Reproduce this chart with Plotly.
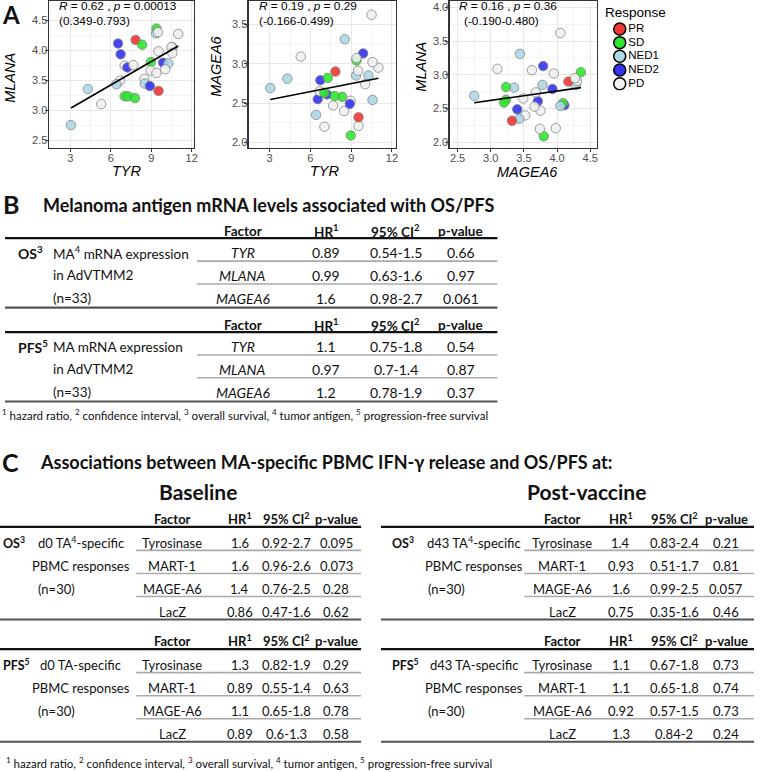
import numpy as np
import plotly.graph_objects as go

W, H = 763, 772

# ---------------- Panel A data (33 patients) ----------------
tyr = [9.39, 9.36, 9.50, 7.84, 6.54, 8.33, 11.0, 6.73, 10.57, 10.50, 10.57,
       9.54, 8.97, 9.88, 10.27, 7.03, 7.23, 7.67, 8.95, 9.39, 10.03, 8.48,
       6.69, 6.42, 8.53, 8.90, 9.54, 4.30, 7.03, 7.28, 7.79, 5.29, 3.05]
mlana = [4.36, 4.28, 4.30, 4.17, 4.11, 4.09, 4.27, 3.93, 4.05, 4.05, 3.95,
         3.98, 3.80, 3.79, 3.78, 3.74, 3.71, 3.75, 3.66, 3.62, 3.68, 3.52,
         3.49, 3.43, 3.44, 3.40, 3.32, 3.35, 3.23, 3.23, 3.20, 3.10, 2.75]
magea6 = [3.04, 2.85, 2.91, 2.90, 2.55, 2.58, 2.95, 2.79, 2.54, 3.62, 3.02,
          2.21, 2.09, 3.13, 2.85, 2.20, 2.61, 2.47, 2.53, 3.07, 2.74, 2.40,
          2.65, 2.35, 3.31, 2.49, 2.32, 2.81, 2.63, 2.82, 2.59, 3.09, 2.69]
response = ["SD", "NED1", "PD", "PR", "NED2", "SD", "PD", "NED2", "NED1", "PD", "PD",
            "PD", "SD", "NED2", "NED1", "PD", "NED2", "PD", "PD", "PD", "PD", "PD",
            "PD", "NED1", "NED1", "NED2", "PR", "NED1", "SD", "SD", "SD", "PD", "NED1"]

resp_levels = ["PR", "SD", "NED1", "NED2", "PD"]
resp_colors = ["#f23535", "#2ee82e", "#add8e6", "#3434f0", "#f0f0f0"]

corr_text = ["<i>R</i> = 0.62 , <i>p</i> = 0.00013", "<i>R</i> = 0.19 , <i>p</i> = 0.29",
             "<i>R</i> = 0.16 , <i>p</i> = 0.36"]
ci_text = ["(0.349-0.793)", "(-0.166-0.499)", "(-0.190-0.480)"]

# ---------------- Panel B data ----------------
b_factors = ["TYR", "MLANA", "MAGEA6"]
b_os_hr = ["0.89", "0.99", "1.6"]
b_os_ci = ["0.54-1.5", "0.63-1.6", "0.98-2.7"]
b_os_p = ["0.66", "0.97", "0.061"]
b_pfs_hr = ["1.1", "0.97", "1.2"]
b_pfs_ci = ["0.75-1.8", "0.7-1.4", "0.78-1.9"]
b_pfs_p = ["0.54", "0.87", "0.37"]

# ---------------- Panel C data ----------------
c_factors = ["Tyrosinase", "MART-1", "MAGE-A6", "LacZ"]
c_base_os_hr = ["1.6", "1.6", "1.4", "0.86"]
c_base_os_ci = ["0.92-2.7", "0.96-2.6", "0.76-2.5", "0.47-1.6"]
c_base_os_p = ["0.095", "0.073", "0.28", "0.62"]
c_base_pfs_hr = ["1.3", "0.89", "1.1", "0.89"]
c_base_pfs_ci = ["0.82-1.9", "0.55-1.4", "0.65-1.8", "0.6-1.3"]
c_base_pfs_p = ["0.29", "0.63", "0.78", "0.58"]
c_post_os_hr = ["1.4", "0.93", "1.6", "0.75"]
c_post_os_ci = ["0.83-2.4", "0.51-1.7", "0.99-2.5", "0.35-1.6"]
c_post_os_p = ["0.21", "0.81", "0.057", "0.46"]
c_post_pfs_hr = ["1.1", "1.1", "0.92", "1.3"]
c_post_pfs_ci = ["0.67-1.8", "0.65-1.8", "0.57-1.5", "0.84-2"]
c_post_pfs_p = ["0.73", "0.74", "0.73", "0.24"]

footnote = ("<sup>1</sup> hazard ratio, <sup>2</sup> confidence interval, <sup>3</sup> overall survival, "
            "<sup>4</sup> tumor antigen, <sup>5</sup> progression-free survival")

# ---------------------------------------------------------------
AF = "Liberation Sans"
TF = "Lato"


def X(p):
    return p / W


def Y(p):
    return 1 - p / H


fig = go.Figure()
ann = []
shapes = []


def txt(x, y, s, size, anchor="center", family=TF, color="#111111", angle=0):
    ann.append(dict(x=X(x), y=Y(y), xref="paper", yref="paper", text=s, showarrow=False,
                    xanchor=anchor, yanchor="middle", textangle=angle,
                    font=dict(family=family, size=size, color=color)))


def hline(x0, x1, y, color, width):
    shapes.append(dict(type="line", xref="paper", yref="paper", x0=X(x0), x1=X(x1),
                       y0=Y(y), y1=Y(y), line=dict(color=color, width=width)))


cmap = dict(zip(resp_levels, resp_colors))
pt_colors = [cmap[r] for r in response]

panels = [
    # x data, y data, x box px, x range, x dtick, y range, xtitle, ytitle
    (tyr, mlana, (49, 195), (1.40, 12.17), 3, (2.37, 4.82), "TYR", "MLANA"),
    (tyr, magea6, (250, 398), (1.46, 12.29), 3, (1.933, 3.795), "TYR", "MAGEA6"),
    (mlana, magea6, (452, 600), (2.38, 4.60), 0.5, (1.92, 4.093), "MAGEA6", "MLANA"),
]
ytitle_pos = [(10, 78), (217, 66), (423, 67)]
xtitle_pos = [(128, 171), (327, 171), (530, 172)]
corr_pos = [(57, 57), (258, 258), (459, 464)]

layout_axes = {}
for i, (xs, ys, (bx0, bx1), xr, xdt, yr, xt, yt) in enumerate(panels):
    k = "" if i == 0 else str(i + 1)
    fig.add_trace(go.Scatter(
        x=xs, y=ys, mode="markers", xaxis="x" + k, yaxis="y" + k, showlegend=False,
        marker=dict(size=9.5, color=pt_colors, opacity=0.9,
                    line=dict(color="#7a7a7a", width=0.8)),
        hoverinfo="skip"))
    slope, icpt = np.polyfit(np.array(xs), np.array(ys), 1)
    lx = np.array([min(xs), max(xs)])
    fig.add_trace(go.Scatter(x=lx, y=slope * lx + icpt, mode="lines", xaxis="x" + k,
                             yaxis="y" + k, showlegend=False,
                             line=dict(color="black", width=1.6), hoverinfo="skip"))
    common = dict(showline=True, mirror=True, linecolor="#333333", linewidth=1.2,
                  ticks="outside", ticklen=3, tickcolor="#333333", zeroline=False,
                  tickfont=dict(family=AF, size=11, color="#4d4d4d"),
                  showgrid=True, gridcolor="#e8e8e8", gridwidth=1)
    layout_axes["xaxis" + k] = dict(common, domain=[X(bx0), X(bx1)], range=list(xr),
                                    anchor="y" + k, dtick=xdt, tick0=0,
                                    tickformat=".1f" if xdt < 1 else "d",
                                    ticklabelstandoff=-3,
                                    minor=dict(dtick=xdt / 2, showgrid=True,
                                               gridcolor="#f4f4f4", ticks=""))
    layout_axes["yaxis" + k] = dict(common, domain=[Y(148), Y(1)], range=list(yr),
                                    anchor="x" + k, dtick=0.5, tick0=0, tickformat=".1f",
                                    ticklabelstandoff=-5,
                                    minor=dict(dtick=0.25, showgrid=True,
                                               gridcolor="#f4f4f4", ticks=""))
    txt(xtitle_pos[i][0], xtitle_pos[i][1], "<i>%s</i>" % xt, 14.5, family=AF, color="black")
    txt(ytitle_pos[i][0], ytitle_pos[i][1], "<i>%s</i>" % yt, 14.5, family=AF, color="black",
        angle=-90)
    txt(corr_pos[i][0], 6.5, corr_text[i], 11.8, anchor="left", family=AF, color="black")
    txt(corr_pos[i][1], 21.5, ci_text[i], 11.8, anchor="left", family=AF, color="black")

# legend as its own small axis
fig.add_trace(go.Scatter(
    x=[9] * len(resp_levels), y=list(range(len(resp_levels))), mode="markers+text",
    xaxis="x4", yaxis="y4", showlegend=False, text=resp_levels, textposition="middle right",
    textfont=dict(family=AF, size=11.5, color="black"),
    marker=dict(size=12, color=resp_colors, line=dict(color="black", width=1.5)),
    hoverinfo="skip"))
layout_axes["xaxis4"] = dict(domain=[X(614), X(714)], range=[0, 100], visible=False,
                             anchor="y4")
layout_axes["yaxis4"] = dict(domain=[Y(90.65), Y(22.15)], range=[4.5, -0.5], visible=False,
                             anchor="x4")
txt(606, 13, "Response", 13.5, anchor="left", family=AF, color="black")

# panel letters
txt(0, 15, "<b>A</b>", 24, anchor="left")
txt(1, 204, "<b>B</b>", 25, anchor="left")
txt(0, 463, "<b>C</b>", 25, anchor="left")

# ---------------- Table B ----------------
txt(41, 205.5, "<b>Melanoma antigen mRNA levels associated with OS/PFS</b>", 18, anchor="left")
b_cols = [244, 328, 398, 463]
b_heads = ["<b>Factor</b>", "<b>HR<sup>1</sup></b>", "<b>95% CI<sup>2</sup></b>", "<b>p-value</b>"]
b_sections = [
    (231, "OS<sup>3</sup>", ["MA<sup>4</sup> mRNA expression", "in AdVTMM2", "(n=33)"],
     b_os_hr, b_os_ci, b_os_p),
    (325, "PFS<sup>5</sup>", ["MA mRNA expression", "in AdVTMM2", "(n=33)"],
     b_pfs_hr, b_pfs_ci, b_pfs_p),
]
for hy, lab, desc, hr, ci, pv in b_sections:
    for cx, h in zip(b_cols, b_heads):
        txt(cx, hy, h, 13.5)
    hline(5, 500, hy + 7.5, "#111111", 2.2)
    for r in range(3):
        ry = hy + 22 + 22.8 * r
        if r == 0:
            txt(16, ry, "<b>%s</b>" % lab, 14, anchor="left")
        txt(51, ry, desc[r], 13.5, anchor="left")
        txt(b_cols[0], ry, "<i>%s</i>" % b_factors[r], 14)
        txt(b_cols[1], ry, hr[r], 14)
        txt(b_cols[2], ry, ci[r], 14)
        txt(b_cols[3], ry, pv[r], 14)
        if r < 2:
            hline(198, 500, ry + 8.5, "#aaaaaa", 1.6)
    hline(5, 500, hy + 77, "#555555", 2.2)
txt(0, 415, footnote, 11.5, anchor="left")

# ---------------- Table C ----------------
txt(38, 463, "<b>Associations between MA-specific PBMC IFN-γ release and OS/PFS at:</b>", 18,
    anchor="left")

c_tables = [
    dict(title="Baseline", tx=199.5, cols=[173, 241, 288, 338], x0=0, x1=363, tx0=137,
         lab_x=1, desc_c=81, n_x=36, day="d0",
         secs=[(c_base_os_hr, c_base_os_ci, c_base_os_p),
               (c_base_pfs_hr, c_base_pfs_ci, c_base_pfs_p)]),
    dict(title="Post-vaccine", tx=590, cols=[565, 624, 678, 730], x0=383, x1=758, tx0=527,
         lab_x=392, desc_c=476, n_x=428, day="d43",
         secs=[(c_post_os_hr, c_post_os_ci, c_post_os_p),
               (c_post_pfs_hr, c_post_pfs_ci, c_post_pfs_p)]),
]
c_heads = b_heads
for t in c_tables:
    txt(t["tx"], 491.7, "<b>%s</b>" % t["title"], 21)
    for si, (hr, ci, pv) in enumerate(t["secs"]):
        hy = 519.3 if si == 0 else 641.7
        lab = "OS<sup>3</sup>" if si == 0 else "PFS<sup>5</sup>"
        first = "%s TA<sup>4</sup>-specific" % t["day"] if si == 0 else "%s TA-specific" % t["day"]
        for cx, h in zip(t["cols"], c_heads):
            txt(cx, hy, h, 13)
        hline(t["x0"], t["x1"], hy + 8.3, "#111111", 2.2)
        for r in range(4):
            ry = hy + 24 + 23.1 * r
            if r == 0:
                txt(t["lab_x"], ry, "<b>%s</b>" % lab, 12.5, anchor="left")
                txt(t["desc_c"], ry, first, 13)
            elif r == 1:
                txt(t["desc_c"], ry, "PBMC responses", 13)
            elif r == 2:
                txt(t["n_x"], ry, "(n=30)", 13, anchor="left")
            txt(t["cols"][0], ry, c_factors[r], 13)
            txt(t["cols"][1], ry, hr[r], 13)
            txt(t["cols"][2], ry, ci[r], 13)
            txt(t["cols"][3], ry, pv[r], 13)
            if r < 3:
                hline(t["tx0"], t["x1"], ry + 7.8, "#aaaaaa", 1.6)
        hline(t["x0"], t["x1"], hy + 101, "#555555", 2.2)
txt(4, 763.3, footnote, 11.5, anchor="left")

fig.update_layout(
    width=W, height=H, margin=dict(l=0, r=0, t=0, b=0), autosize=False,
    paper_bgcolor="white", plot_bgcolor="white", showlegend=False, hovermode=False,
    annotations=ann, shapes=shapes, **layout_axes)

fig.write_html("out.html", config={"displayModeBar": False, "staticPlot": True},
               post_script="document.body.style.margin='0';document.body.style.overflow='hidden';")
